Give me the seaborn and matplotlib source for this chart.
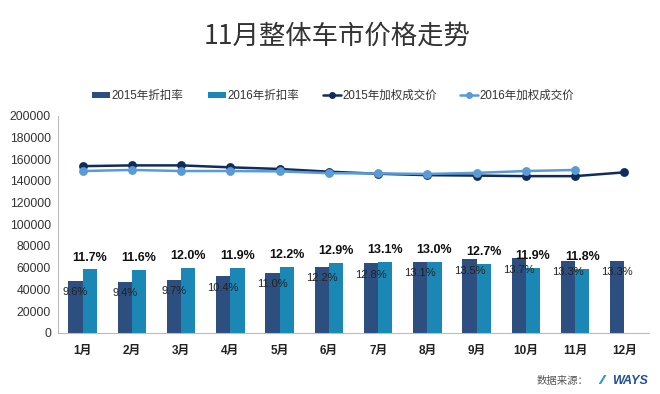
import numpy as np
import pandas as pd
import matplotlib
matplotlib.use("Agg")
import matplotlib.pyplot as plt
from matplotlib.patches import Patch
from matplotlib.lines import Line2D
import seaborn as sns

# ---------------- data ----------------
months = ["1月", "2月", "3月", "4月", "5月", "6月", "7月", "8月", "9月", "10月", "11月", "12月"]
rate_2015 = [9.6, 9.4, 9.7, 10.4, 11.0, 12.2, 12.8, 13.1, 13.5, 13.7, 13.3, 13.3]
rate_2016 = [11.7, 11.6, 12.0, 11.9, 12.2, 12.9, 13.1, 13.0, 12.7, 11.9, 11.8]
price_2015 = [153500, 154200, 154200, 152400, 150900, 148400, 146500, 145200, 144800, 144300, 144300, 147800]
price_2016 = [149000, 150000, 149000, 149000, 148700, 147000, 146800, 146300, 147300, 149000, 150000]
bar_scale = 5000  # bars drawn as rate(%) * 5000 on the price axis
series_names = ["2015年折扣率", "2016年折扣率", "2015年加权成交价", "2016年加权成交价"]

# ---------------- style ----------------
sns.set_theme(style="white")
plt.rcParams["font.family"] = ["Liberation Sans", "Noto Sans CJK SC", "DejaVu Sans"]

c_bar15 = "#2C4F80"
c_bar16 = "#1B87B5"
c_line15 = "#0E2D5C"
c_line16 = "#5A9BD6"

bars = pd.DataFrame({
    "month": months * 2,
    "series": [series_names[0]] * 12 + [series_names[1]] * 12,
    "value": [r * bar_scale for r in rate_2015] + [r * bar_scale for r in rate_2016] + [np.nan],
})
lines = pd.DataFrame({
    "month": months + months[:len(price_2016)],
    "series": [series_names[2]] * 12 + [series_names[3]] * len(price_2016),
    "price": price_2015 + price_2016,
})

fig = plt.figure(figsize=(6.6, 3.94), dpi=100)
ax = fig.add_axes([58 / 660, 1 - 332.7 / 394, (649 - 58) / 660, (332.7 - 115.7) / 394])

sns.barplot(data=bars, x="month", y="value", hue="series", order=months,
            hue_order=series_names[:2], palette=[c_bar15, c_bar16],
            width=0.58, gap=0, saturation=1, legend=False, ax=ax, errorbar=None,
            linewidth=0, edgecolor="none")

sns.pointplot(data=lines, x="month", y="price", hue="series", order=months,
              hue_order=series_names[2:], palette=[c_line15, c_line16],
              markers="o", markersize=5, linewidth=1.8, legend=False, ax=ax,
              errorbar=None)

# labels
for i, r in enumerate(rate_2015):
    ax.text(i - 0.145, r * bar_scale - 10500, f"{r:.1f}%", ha="center", va="center",
            fontsize=8, color="#222222")
for i, r in enumerate(rate_2016):
    ax.text(i + 0.145, r * bar_scale + 10800, f"{r:.1f}%", ha="center", va="center",
            fontsize=9, fontweight="bold", color="#111111")

ax.set_ylim(0, 200000)
ax.set_xlim(-0.5, 11.5)
ax.set_yticks(np.arange(0, 200001, 20000))
ax.set_yticklabels([f"{v}" for v in range(0, 200001, 20000)], fontsize=8.8, color="#333333")
ax.set_xticks(range(12))
ax.set_xticklabels(months, fontsize=8.5, fontweight="bold", color="#222222")
ax.tick_params(axis="x", length=0, pad=9)
ax.tick_params(axis="y", length=0, pad=5)
# boundary tick marks
ax.set_xticks(np.arange(-0.5, 12, 1), minor=True)
ax.tick_params(axis="x", which="minor", length=4, color="#BBBBBB", width=0.8, direction="out")
ax.set_xlabel("")
ax.set_ylabel("")
for s in ["top", "right"]:
    ax.spines[s].set_visible(False)
for s in ["left", "bottom"]:
    ax.spines[s].set_color("#BBBBBB")
    ax.spines[s].set_linewidth(0.8)

# legend (one entry each, placed at reference positions)
handles = [
    Patch(facecolor=c_bar15, edgecolor="none"),
    Patch(facecolor=c_bar16, edgecolor="none"),
    Line2D([0], [0], color=c_line15, marker="o", markersize=4, linewidth=1.8),
    Line2D([0], [0], color=c_line16, marker="o", markersize=4, linewidth=1.8),
]
leg_x = [92, 208, 323, 460]
for h, name, x in zip(handles, series_names, leg_x):
    lg = fig.legend([h], [name], loc="center left", bbox_to_anchor=(x / 660, 1 - 96 / 394),
                    frameon=False, handlelength=1.6, handleheight=0.45, handletextpad=0.1,
                    borderpad=0, borderaxespad=0, prop={"size": 8.3})
    for t in lg.get_texts():
        t.set_color("#333333")

# title
fig.text(337 / 660, 1 - 36 / 394, "11月整体车市价格走势", ha="center", va="center",
         fontsize=19, color="#333333", family=["Noto Sans CJK SC", "DejaVu Sans"],
         fontweight="light")

# source
fig.text(588 / 660, 1 - 381 / 394, "数据来源：", ha="right", va="center", fontsize=7.5,
         color="#555555", family=["Noto Sans CJK SC", "DejaVu Sans"])
fig.text(612 / 660, 1 - 381 / 394, "WAYS", ha="left", va="center", fontsize=9,
         color="#1F4E9C", fontweight="bold", fontstyle="italic")
fig.text(600 / 660, 1 - 381 / 394, "⁄⁄", ha="left", va="center", fontsize=9,
         color="#2A8DD8", fontweight="bold")

fig.savefig("out.png", dpi=100)
